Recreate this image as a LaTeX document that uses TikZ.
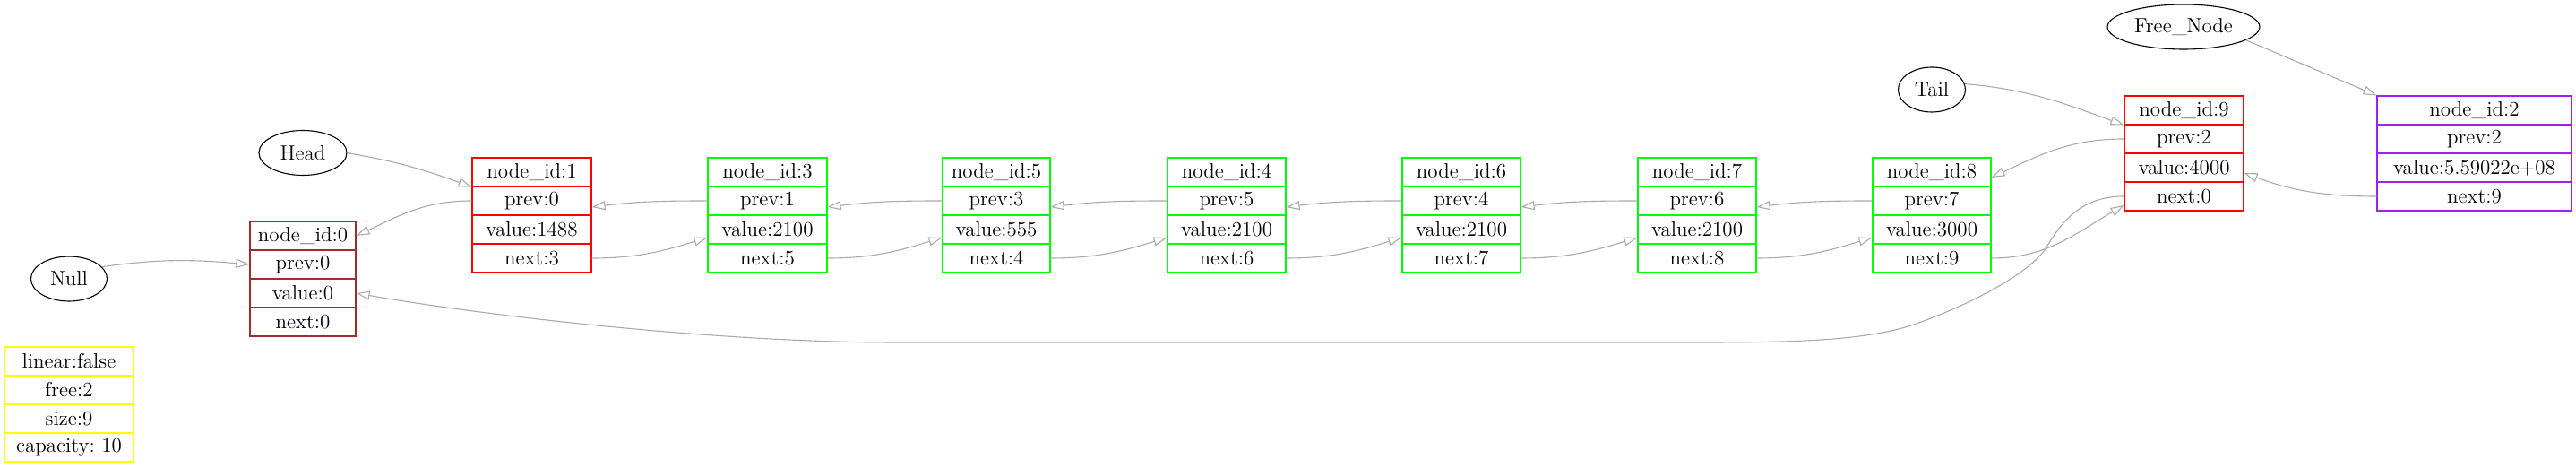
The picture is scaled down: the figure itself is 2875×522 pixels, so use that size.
\documentclass[tikz,border=0pt]{standalone}
\usetikzlibrary{arrows.meta,shapes.geometric,calc}
\definecolor{edgegray}{RGB}{170,170,170}
\definecolor{recgreen}{RGB}{0,255,0}
\definecolor{recred}{RGB}{255,0,0}
\definecolor{recbrown}{RGB}{165,42,42}
\definecolor{recpurple}{RGB}{160,32,240}
\definecolor{recyellow}{RGB}{255,255,0}
\tikzset{
  cell/.style={draw, rectangle, minimum height=16pt, inner sep=0pt, line width=0.55pt, font=\fontsize{11.5}{13}\selectfont},
  oval/.style={draw=black, ellipse, inner sep=0pt, line width=0.55pt, minimum height=25pt, font=\fontsize{11.5}{13}\selectfont},
  link/.style={draw=edgegray, line width=0.55pt, -{Triangle[open,length=7.5pt,width=5pt]}},
}
\newcommand{\mkrec}[9]{%
  \node[cell,draw=#5,minimum width=#4] (#1-a) at (#2,#3+16) {#6};
  \node[cell,draw=#5,minimum width=#4] (#1-b) at (#2,#3+48) {#7};
  \node[cell,draw=#5,minimum width=#4] (#1-c) at (#2,#3+80) {#8};
  \node[cell,draw=#5,minimum width=#4] (#1-d) at (#2,#3+112) {#9};
}
\begin{document}
\begin{tikzpicture}[x=0.5pt,y=-0.5pt]
\useasboundingbox (0,0) rectangle (2875,522);
% ellipses
\node[oval,minimum width=42.5pt] (null) at (77,311) {Null};
\node[oval,minimum width=49pt] (head) at (338,170.5) {Head};
\node[oval,minimum width=37.5pt] (tail) at (2156,100) {Tail};
\node[oval,minimum width=85pt] (free) at (2437,30) {Free\_Node};
% records
\mkrec{n0}{338}{247}{59pt}{recbrown}{node\_id:0}{prev:0}{value:0}{next:0}
\mkrec{n1}{593.5}{176}{66.5pt}{recred}{node\_id:1}{prev:0}{value:1488}{next:3}
\mkrec{n3}{856.5}{176}{66.5pt}{recgreen}{node\_id:3}{prev:1}{value:2100}{next:5}
\mkrec{n5}{1112}{176}{60pt}{recgreen}{node\_id:5}{prev:3}{value:555}{next:4}
\mkrec{n4}{1369}{176}{66pt}{recgreen}{node\_id:4}{prev:5}{value:2100}{next:6}
\mkrec{n6}{1631}{176}{66pt}{recgreen}{node\_id:6}{prev:4}{value:2100}{next:7}
\mkrec{n7}{1894}{176}{66pt}{recgreen}{node\_id:7}{prev:6}{value:2100}{next:8}
\mkrec{n8}{2156}{176}{66pt}{recgreen}{node\_id:8}{prev:7}{value:3000}{next:9}
\mkrec{n9}{2437.5}{107}{66.5pt}{recred}{node\_id:9}{prev:2}{value:4000}{next:0}
\mkrec{n2}{2761.5}{107}{108.5pt}{recpurple}{node\_id:2}{prev:2}{value:5.59022e+08}{next:9}
\mkrec{L}{77}{387}{72pt}{recyellow}{linear:false}{free:2}{size:9}{capacity:\ 10}
% pointer edges
\draw[link] (null.20) to[out=8,in=175] (n0-b.west);
\draw[link] (head.east) to[out=-10,in=160] (n1-a.south west);
\draw[link] (tail.10) to[out=-5,in=160] (n9-a.south west);
\draw[link] (free.-12) -- (n2-a.north west);
% prev edges
\draw[link] (n1-b.west) to[out=180,in=25] (n0-a.east);
\draw[link] (n3-b.west) to[out=180,in=7] ($(n1-b.east)+(0,7)$);
\draw[link] (n5-b.west) to[out=180,in=7] ($(n3-b.east)+(0,7)$);
\draw[link] (n4-b.west) to[out=180,in=7] ($(n5-b.east)+(0,7)$);
\draw[link] (n6-b.west) to[out=180,in=7] ($(n4-b.east)+(0,7)$);
\draw[link] (n7-b.west) to[out=180,in=7] ($(n6-b.east)+(0,7)$);
\draw[link] (n8-b.west) to[out=180,in=7] ($(n7-b.east)+(0,7)$);
\draw[link] (n9-b.west) to[out=180,in=25] ($(n8-a.east)+(0,6)$);
\draw[link] (n2-d.west) to[out=180,in=-20] ($(n9-c.east)+(0,6)$);
% next edges
\draw[link] (n1-d.east) to[out=0,in=197] ($(n3-c.west)+(0,9)$);
\draw[link] (n3-d.east) to[out=0,in=197] ($(n5-c.west)+(0,9)$);
\draw[link] (n5-d.east) to[out=0,in=197] ($(n4-c.west)+(0,9)$);
\draw[link] (n4-d.east) to[out=0,in=197] ($(n6-c.west)+(0,9)$);
\draw[link] (n6-d.east) to[out=0,in=197] ($(n7-c.west)+(0,9)$);
\draw[link] (n7-d.east) to[out=0,in=197] ($(n8-c.west)+(0,9)$);
\draw[link] (n8-d.east) to[out=0,in=210] ($(n9-d.west)+(0,10)$);
% long edge back to node 0
\draw[link] (n9-d.west) .. controls (2320,219) and (2300,250) .. (2283,277)
  .. controls (2266,304) and (2200,340) .. (2133,363)
  .. controls (2080,380) and (2000,382) .. (1900,382)
  -- (1000,382)
  .. controls (800,382) and (540,352) .. (n0-c.east);
\end{tikzpicture}
\end{document}
